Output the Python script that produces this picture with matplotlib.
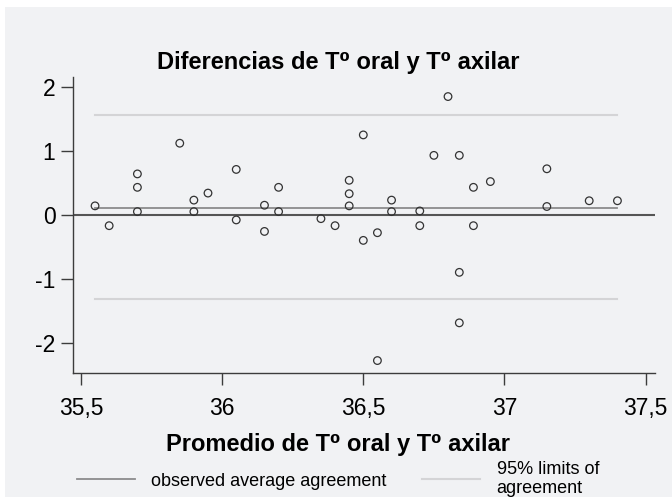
# Bland-Altman plot: oral vs axillary temperature

import numpy as np
import matplotlib.pyplot as plt
from matplotlib.patches import Rectangle
from matplotlib.lines import Line2D

plt.rcParams['font.family'] = ['Liberation Sans', 'DejaVu Sans']

# average of both temperatures
promedio = [35.55, 35.60, 35.70, 35.70, 35.70, 35.85, 35.90, 35.90, 35.95, 36.05,
            36.05, 36.15, 36.15, 36.20, 36.20, 36.35, 36.40, 36.45, 36.45, 36.45,
            36.50, 36.50, 36.55, 36.55, 36.60, 36.60, 36.70, 36.70, 36.75, 36.80,
            36.84, 36.84, 36.84, 36.89, 36.89, 36.95, 37.15, 37.15, 37.30, 37.40]
# oral - axillary
diferencia = [0.14, -0.17, 0.64, 0.43, 0.05, 1.12, 0.23, 0.05, 0.34, 0.71,
              -0.08, 0.15, -0.26, 0.43, 0.05, -0.06, -0.17, 0.54, 0.33, 0.14,
              1.25, -0.40, -0.28, -2.28, 0.23, 0.05, 0.06, -0.17, 0.93, 1.85,
              0.93, -0.90, -1.69, 0.43, -0.17, 0.52, 0.72, 0.13, 0.22, 0.22]

mean_diff = 0.10
upper_loa = 1.56
lower_loa = -1.31

xticks = [35.5, 36, 36.5, 37, 37.5]
xtick_labels = ["35,5", "36", "36,5", "37", "37,5"]
yticks = [-2, -1, 0, 1, 2]
ytick_labels = ["-2", "-1", "0", "1", "2"]

W, H = 672, 497
fig = plt.figure(figsize=(W / 100, H / 100), dpi=100)
fig.patch.set_facecolor("white")
fig.patches.append(Rectangle((5 / W, 0), 1 - 5 / W, 1 - 7 / H,
                             transform=fig.transFigure, facecolor="#f1f2f4",
                             edgecolor="none", zorder=-10))

ax = fig.add_axes([73.3 / W, (H - 372.7) / H, (655 - 73.3) / W, (372.7 - 77) / H])
ax.set_facecolor("none")
ax.set_zorder(5)

x0, x1 = min(promedio), max(promedio)
ax.axhline(0, color="#555555", lw=1.5, zorder=1)
ax.plot([x0, x1], [mean_diff, mean_diff], color="#8c8c8c", lw=1.3, zorder=2)
ax.plot([x0, x1], [upper_loa, upper_loa], color="#d4d4d6", lw=1.5, zorder=2)
ax.plot([x0, x1], [lower_loa, lower_loa], color="#d4d4d6", lw=1.5, zorder=2)
ax.scatter(promedio, diferencia, s=30, facecolors="none", edgecolors="#333333",
           linewidths=0.9, zorder=3)

ax.set_xlim(35.473, 37.533)
ax.set_ylim(-2.47, 2.156)
ax.set_xticks(xticks)
ax.set_xticklabels(xtick_labels)
ax.set_yticks(yticks)
ax.set_yticklabels(ytick_labels)

for s in ["top", "right"]:
    ax.spines[s].set_visible(False)
for s in ["left", "bottom"]:
    ax.spines[s].set_color("#3c3c3c")
    ax.spines[s].set_linewidth(1.0)
ax.tick_params(axis="both", direction="out", length=8.4, width=1.0,
               color="#3c3c3c", labelsize=16.5, labelcolor="black")
ax.tick_params(axis="x", pad=9)
ax.tick_params(axis="y", pad=4.5)

fig.text(338.5 / W, (H - 62) / H, "Diferencias de T⁰ oral y T⁰ axilar",
         ha="center", va="center", fontsize=17, fontweight="bold")
fig.text(338.5 / W, (H - 445) / H, "Promedio de T⁰ oral y T⁰ axilar",
         ha="center", va="center", fontsize=17, fontweight="bold")

handles = [Line2D([], [], color="#8c8c8c", lw=1.3),
           Line2D([], [], color="#d4d4d6", lw=1.5)]
fig.legend(handles, ["observed average agreement", "95% limits of\nagreement"],
           loc="center", bbox_to_anchor=(338 / W, (H - 479) / H), ncol=2,
           frameon=False, fontsize=13, handlelength=3.2, handletextpad=0.9,
           columnspacing=2.0, borderpad=0, labelspacing=0.1)

fig.savefig("out.png", dpi=100)
